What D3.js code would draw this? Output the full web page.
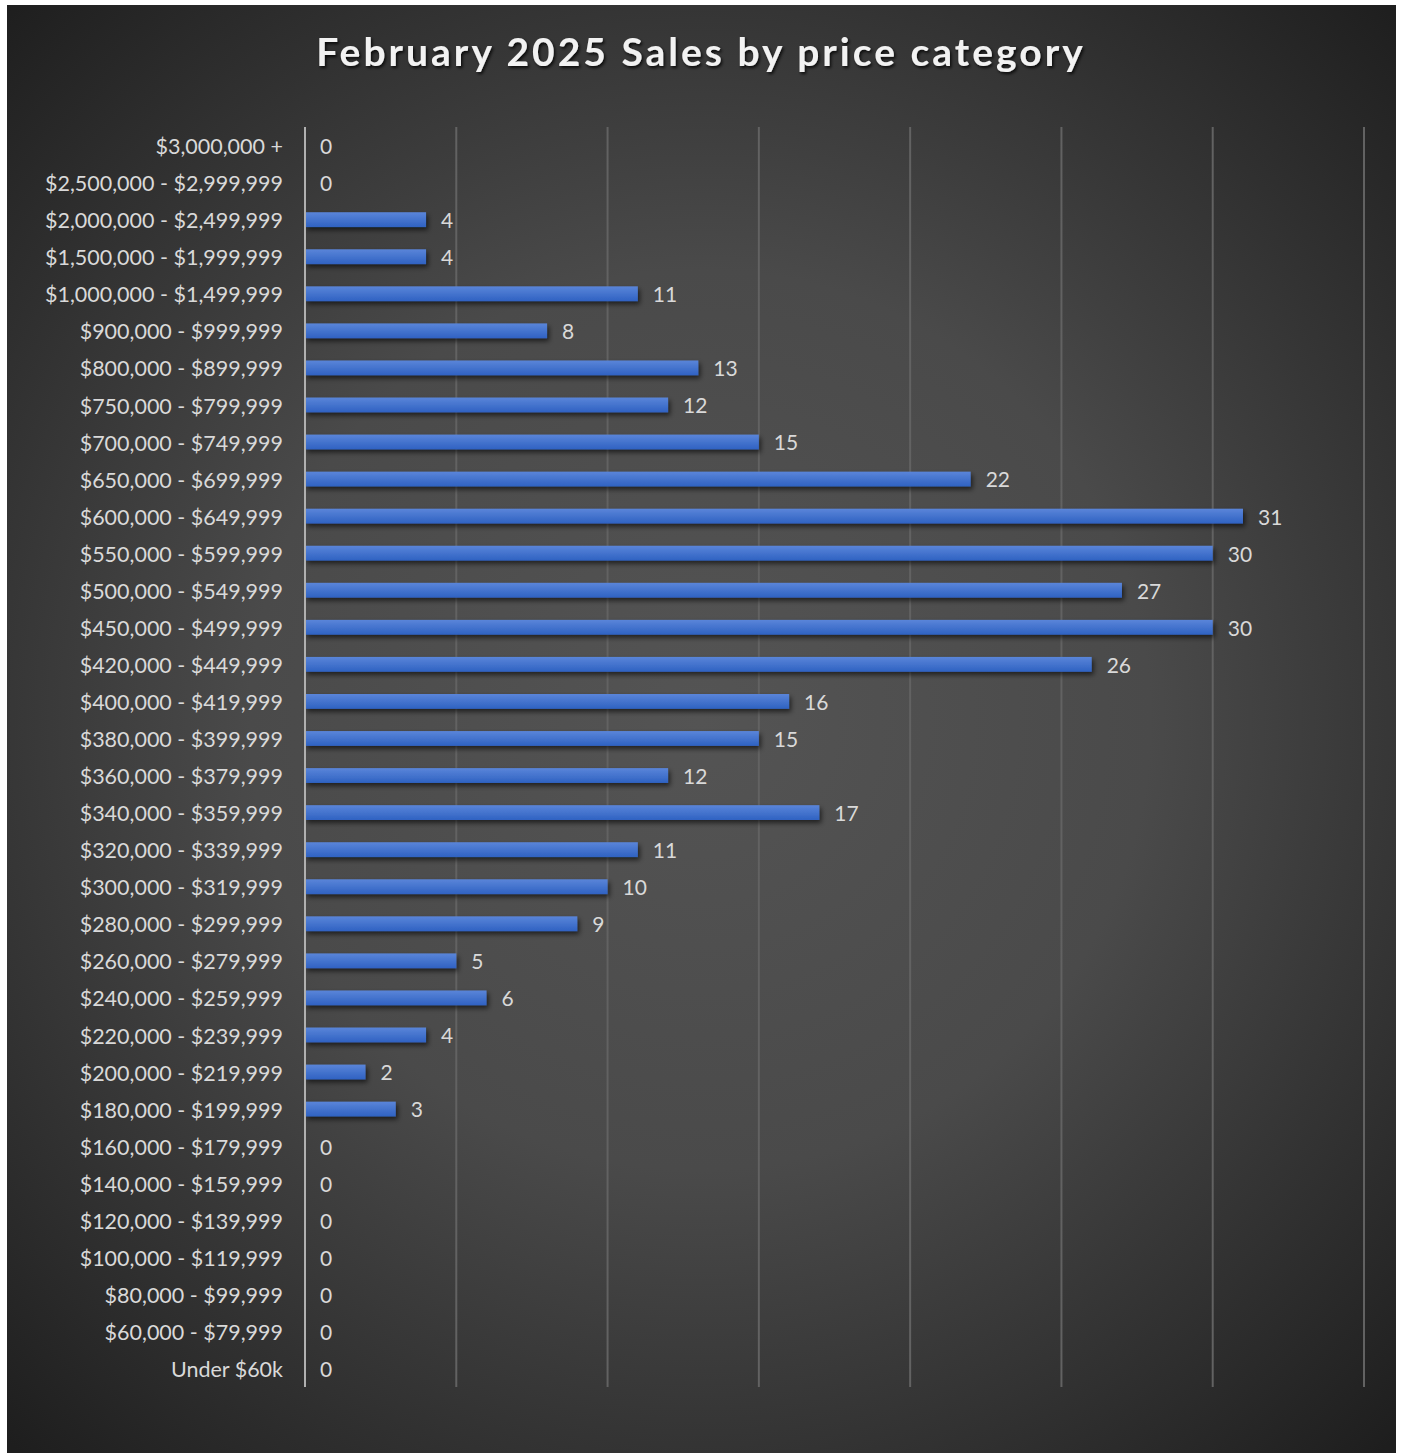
<!DOCTYPE html>
<html>
<head>
<meta charset="utf-8">
<script src="https://cdn.jsdelivr.net/npm/d3@7"></script>
<style>
  body { margin: 0; background: #fff; }
  svg { display: block; }
</style>
</head>
<body>
<svg id="mainsvg" width="1403" height="1454"></svg>
<script>
var categories = [
  '$3,000,000 +', '$2,500,000 - $2,999,999', '$2,000,000 - $2,499,999', '$1,500,000 - $1,999,999',
  '$1,000,000 - $1,499,999', '$900,000 - $999,999', '$800,000 - $899,999', '$750,000 - $799,999',
  '$700,000 - $749,999', '$650,000 - $699,999', '$600,000 - $649,999', '$550,000 - $599,999',
  '$500,000 - $549,999', '$450,000 - $499,999', '$420,000 - $449,999', '$400,000 - $419,999',
  '$380,000 - $399,999', '$360,000 - $379,999', '$340,000 - $359,999', '$320,000 - $339,999',
  '$300,000 - $319,999', '$280,000 - $299,999', '$260,000 - $279,999', '$240,000 - $259,999',
  '$220,000 - $239,999', '$200,000 - $219,999', '$180,000 - $199,999', '$160,000 - $179,999',
  '$140,000 - $159,999', '$120,000 - $139,999', '$100,000 - $119,999', '$80,000 - $99,999',
  '$60,000 - $79,999', 'Under $60k'
];
var sales = [0, 0, 4, 4, 11, 8, 13, 12, 15, 22, 31, 30, 27, 30, 26, 16, 15, 12, 17, 11, 10, 9, 5, 6, 4, 2, 3, 0, 0, 0, 0, 0, 0, 0];
var gridTicks = [5, 10, 15, 20, 25, 30, 35];
var title = 'February 2025 Sales by price category';

var svg = d3.select('#mainsvg');
var font = 'Lato, "Open Sans", sans-serif';

var defs = svg.append('defs');
var bg = defs.append('radialGradient').attr('id', 'bg')
  .attr('gradientUnits', 'userSpaceOnUse')
  .attr('cx', 700).attr('cy', 720).attr('r', 1000);
bg.append('stop').attr('offset', '0%').attr('stop-color', '#545454');
bg.append('stop').attr('offset', '45%').attr('stop-color', '#4a4a4a');
bg.append('stop').attr('offset', '100%').attr('stop-color', '#1e1e1e');

var barGrad = defs.append('linearGradient').attr('id', 'bargrad')
  .attr('x1', 0).attr('y1', 0).attr('x2', 0).attr('y2', 1);
barGrad.append('stop').attr('offset', '0%').attr('stop-color', '#5a85d9');
barGrad.append('stop').attr('offset', '100%').attr('stop-color', '#2f62c2');

var shadow = defs.append('filter').attr('id', 'shadow')
  .attr('x', '-5%').attr('y', '-50%').attr('width', '120%').attr('height', '250%');
shadow.append('feDropShadow').attr('dx', 2).attr('dy', 3).attr('stdDeviation', 2.5)
  .attr('flood-color', '#000').attr('flood-opacity', 0.6);

var tshadow = defs.append('filter').attr('id', 'tshadow')
  .attr('x', '-5%').attr('y', '-30%').attr('width', '110%').attr('height', '170%');
tshadow.append('feDropShadow').attr('dx', 1.5).attr('dy', 2).attr('stdDeviation', 1.5)
  .attr('flood-color', '#000').attr('flood-opacity', 0.8);

svg.append('rect')
  .attr('x', 7).attr('y', 5).attr('width', 1389).attr('height', 1448)
  .attr('fill', 'url(#bg)');

var margin = {left: 305, top: 127};
var plotH = 1387 - 127;

var x = d3.scaleLinear().domain([0, 35]).range([0, 1364 - 305]);
var y = d3.scaleBand().domain(categories).range([0, plotH]).paddingInner(0.6).paddingOuter(0.3);

var g = svg.append('g').attr('transform', 'translate(' + margin.left + ',' + margin.top + ')');

// vertical gridlines
g.append('g').selectAll('line')
  .data(gridTicks)
  .enter()
  .append('line')
  .attr('x1', function(d) {return x(d);})
  .attr('x2', function(d) {return x(d);})
  .attr('y1', 0)
  .attr('y2', plotH)
  .attr('stroke', '#626262')
  .attr('stroke-width', 2);

// bars
g.append('g').selectAll('rect')
  .data(sales)
  .enter()
  .append('rect')
  .attr('x', 0)
  .attr('y', function(d, i) {return y(categories[i]);})
  .attr('width', function(d) {return x(d);})
  .attr('height', y.bandwidth())
  .attr('fill', 'url(#bargrad)')
  .attr('filter', 'url(#shadow)')
  .style('display', function(d) {return d > 0 ? null : 'none';});

// category axis
var yAxis = d3.axisLeft(y).tickSize(0).tickPadding(22);
var ax = g.append('g').call(yAxis);
ax.select('.domain').remove();
ax.selectAll('text')
  .attr('dy', '0.4em')
  .attr('fill', '#d9d9d9')
  .style('font-family', font)
  .style('font-size', '21.5px');

g.append('line')
  .attr('x1', 0).attr('x2', 0)
  .attr('y1', 0).attr('y2', plotH)
  .attr('stroke', '#b0b0b0')
  .attr('stroke-width', 2);

// value labels
g.append('g').selectAll('text')
  .data(sales)
  .enter()
  .append('text')
  .attr('x', function(d) {return x(d) + 15;})
  .attr('y', function(d, i) {return y(categories[i]) + y.bandwidth() / 2;})
  .attr('dy', '0.4em')
  .attr('fill', '#d9d9d9')
  .style('font-family', font)
  .style('font-size', '21px')
  .text(function(d) {return d;});

// title
svg.append('text')
  .attr('x', 701)
  .attr('y', 66)
  .attr('text-anchor', 'middle')
  .attr('fill', '#f2f2f2')
  .attr('filter', 'url(#tshadow)')
  .style('font-family', font)
  .style('font-weight', 'bold')
  .style('font-size', '39px')
  .style('letter-spacing', '3px')
  .text(title);
</script>
</body>
</html>
